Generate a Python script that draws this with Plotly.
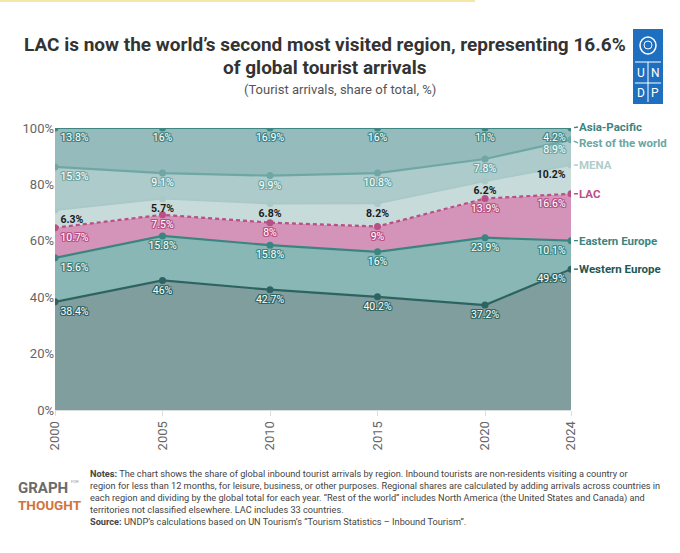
import numpy as np
import plotly.graph_objects as go

# Data (share of global inbound tourist arrivals, %)
years = [2000, 2005, 2010, 2015, 2020, 2024]
western_europe = [38.4, 46, 42.7, 40.2, 37.2, 49.9]
eastern_europe = [15.6, 15.8, 15.8, 16, 23.9, 10.1]
lac = [10.7, 7.5, 8, 9, 13.9, 16.6]
mena = [6.3, 5.7, 6.8, 8.2, 6.2, 10.2]
rest_of_world = [15.3, 9.1, 9.9, 10.8, 7.8, 8.9]
asia_pacific = [13.8, 16, 16.9, 16, 11, 4.2]

regions = ['Western Europe', 'Eastern Europe', 'LAC', 'MENA', 'Rest of the world', 'Asia-Pacific']
series = [western_europe, eastern_europe, lac, mena, rest_of_world, asia_pacific]
y_ticks = [0, 20, 40, 60, 80, 100]

# styling per region
fills = ['#809e9e', '#88b7b5', '#d493b9', '#c7dbdb', '#adcbcb', '#95bbbc']
lines = ['#2d6461', '#3b8581', '#b94f83', '#a9c8c8', '#6fa7a5', '#3f8582']
label_cols = ['#1f5755', '#3b8581', '#c04e88', '#b0cccc', '#6aa6a3', '#3d8380']
label_nudge = [0, 0, 0, 0, 3, -1]  # px, keeps the two top labels apart

W, H = 680, 553
L, R, T, B = 55, 571, 128, 410


def px(x):
    return (x - L) / (R - L)


def py(y):
    return (B - y) / (B - T)


def outline(c):
    return ', '.join(f'{a}px {b}px 0 {c}' for a, b in [(1, 1), (-1, -1), (1, -1), (-1, 1), (1, 0), (-1, 0), (0, 1), (0, -1)])


def note(x, y, text, size, color, xanchor='center', yanchor='middle', **kw):
    # free text placed in picture pixels
    fig.add_annotation(xref='paper', yref='paper', x=px(x), y=py(y), text=text, showarrow=False,
                       xanchor=xanchor, yanchor=yanchor, font=dict(size=size, color=color), **kw)


positions = ['bottom right'] + ['bottom center'] * (len(years) - 2) + ['bottom left']

fig = go.Figure()
for name, vals, fc, lc in zip(regions, series, fills, lines):
    is_mena = name == 'MENA'
    fig.add_trace(go.Scatter(
        x=years, y=vals, name=name, stackgroup='one', groupnorm='percent', mode='lines+markers+text',
        fillcolor=fc,
        line=dict(color=lc, width=2.2 if not is_mena else 1.8, dash='4px,3px' if name == 'LAC' else 'solid'),
        marker=dict(size=7, color=lc),
        text=[f'{v:g}%' for v in vals], textposition=positions,
        textfont=dict(family='Roboto', size=10.5,
                      color='#1a1a1a' if is_mena else 'white',
                      weight='bold' if is_mena else 'normal',
                      shadow='none' if is_mena else outline(lc)),
        hovertemplate='%{x}: %{text}<extra>' + name + '</extra>',
    ))

# right side region labels at the stacked end values
cum = np.cumsum(np.array(series), axis=0)
cum = cum / cum[-1] * 100
for i, name in enumerate(regions):
    fig.add_annotation(x=years[-1], y=cum[i, -1], text=f'<b>{name}</b>', showarrow=True,
                       ax=7, ay=label_nudge[i], arrowhead=0, arrowwidth=1.4, arrowcolor=label_cols[i], standoff=3,
                       borderpad=0, xanchor='left', yanchor='middle',
                       font=dict(family='Roboto', size=11.5, color=label_cols[i]))

fig.update_layout(
    width=W, height=H,
    margin=dict(l=L, r=W - R, t=T, b=H - B),
    plot_bgcolor='white', paper_bgcolor='white',
    showlegend=False,
    font=dict(family='Roboto', color='#666'),
    xaxis=dict(range=[2000, 2024], tickvals=years, ticktext=[str(y) for y in years], tickangle=-90,
               showgrid=False, zeroline=False, ticks='outside', ticklen=5, tickcolor='#ddd',
               showline=True, linecolor='#ddd', tickfont=dict(size=13, color='#666')),
    yaxis=dict(range=[0, 100], tickvals=y_ticks, ticktext=[f'{v}%' for v in y_ticks],
               showgrid=False, zeroline=False, tickfont=dict(size=13, color='#666')),
)

# title and subtitle
note(325, 45, '<b>LAC is now the world’s second most visited region, representing 16.6%</b>', 19, '#333')
note(325, 67, '<b>of global tourist arrivals</b>', 19, '#333')
note(340, 90, '(Tourist arrivals, share of total, %)', 13, '#555')

# notes
notes = ('<b>Notes:</b> The chart shows the share of global inbound tourist arrivals by region. Inbound tourists are non-residents visiting a country or<br>'
         'region for less than 12 months, for leisure, business, or other purposes. Regional shares are calculated by adding arrivals across countries in<br>'
         'each region and dividing by the global total for each year. “Rest of the world” includes North America (the United States and Canada) and<br>'
         'territories not classified elsewhere. LAC includes 33 countries.<br>'
         '<b>Source:</b> UNDP’s calculations based on UN Tourism’s “Tourism Statistics – Inbound Tourism”.')
note(88, 466, notes, 9.2, '#444', xanchor='left', yanchor='top', align='left')

# Graph for Thought mark
note(17, 498, '<b>GRAPH</b>', 15, '#6b6b6b', xanchor='left', yanchor='bottom', borderpad=0)
note(70, 485, 'FOR', 4, '#999', xanchor='left', yanchor='bottom', borderpad=0)
note(17, 496, '<b>THOUGHT</b>', 13.5, '#d2733a', xanchor='left', yanchor='top', borderpad=0)

# UNDP logo
blue = '#1f6fc0'
fig.add_shape(type='rect', xref='paper', yref='paper', x0=px(633), x1=px(663), y0=py(104), y1=py(29),
              fillcolor=blue, line=dict(width=0), layer='below')
fig.add_shape(type='circle', xref='paper', yref='paper', x0=px(640), x1=px(656), y0=py(54), y1=py(37),
              line=dict(color='white', width=1.5), layer='below')
fig.add_shape(type='circle', xref='paper', yref='paper', x0=px(644), x1=px(652), y0=py(49), y1=py(41),
              line=dict(color='white', width=1), layer='below')
for yy in (62, 83):
    fig.add_shape(type='line', xref='paper', yref='paper', x0=px(635), x1=px(661), y0=py(yy), y1=py(yy),
                  line=dict(color='white', width=1), layer='below')
fig.add_shape(type='line', xref='paper', yref='paper', x0=px(648), x1=px(648), y0=py(102), y1=py(62),
              line=dict(color='white', width=1), layer='below')
for ch, cx, cy in [('U', 641, 73), ('N', 655, 73), ('D', 641, 93), ('P', 655, 93)]:
    note(cx, cy, ch, 12, 'white')

# thin yellow strip along the top edge
fig.add_shape(type='rect', xref='paper', yref='paper', x0=px(0), x1=px(475), y0=py(2), y1=py(0),
              fillcolor='#f4e8a8', line=dict(width=0), layer='below')

fig.write_html('out.html', config={'displayModeBar': False},
               post_script="document.body.style.margin='0px';")
